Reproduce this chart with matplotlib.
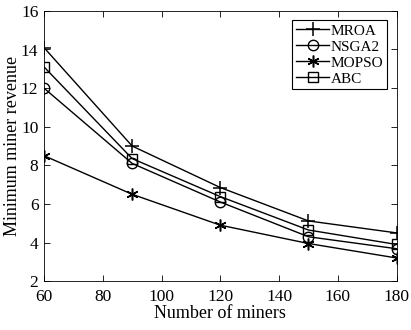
import numpy as np
import matplotlib
matplotlib.use('Agg')
import matplotlib.pyplot as plt

plt.rcParams['font.family'] = ['Liberation Serif', 'DejaVu Serif']
plt.rcParams['mathtext.fontset'] = 'stix'

# --- data ---
miners = [60, 90, 120, 150, 180]
mroa = [14.1, 9.0, 6.85, 5.12, 4.5]
nsga2 = [12.0, 8.1, 6.1, 4.3, 3.68]
mopso = [8.5, 6.5, 4.9, 3.95, 3.2]
abc = [13.1, 8.35, 6.38, 4.65, 3.9]

fig = plt.figure(figsize=(4.11, 3.30), dpi=100)
ax = fig.add_axes([0.107, 0.148, 0.858, 0.819])

ms = 7.5
ax.plot(miners, mroa, color='k', lw=1, marker='+', ms=ms + 2, mew=1.1, label='MROA')
ax.plot(miners, nsga2, color='k', lw=1, marker='o', ms=ms, mfc='none', mew=1, label='NSGA2')
ax.plot(miners, mopso, color='k', lw=1, marker=(6, 2, 0), ms=ms + 1, mew=1.1, label='MOPSO')
ax.plot(miners, abc, color='k', lw=1, marker='s', ms=ms - 0.5, mfc='none', mew=1, label='ABC')

ax.set_xlim(60, 180)
ax.set_ylim(2, 16)
ax.set_xticks(np.arange(60, 181, 20))
ax.set_yticks(np.arange(2, 17, 2))
ax.tick_params(direction='in', top=True, right=True, labelsize=12.5, length=4, width=0.6)
ax.tick_params(axis='x', pad=5.5)
ax.tick_params(axis='y', pad=4)
for s in ax.spines.values():
    s.set_linewidth(0.6)

ax.set_xlabel('Number of miners', fontsize=13, labelpad=0.5)
ax.set_ylabel('Minimum miner revenue', fontsize=13, labelpad=0)

leg = ax.legend(loc='upper right', fontsize=11, frameon=True, fancybox=False,
                edgecolor='k', framealpha=1, borderpad=0.25, labelspacing=0.15,
                handlelength=2.2, handletextpad=0.1, borderaxespad=0.6)
leg.get_frame().set_linewidth(0.8)

fig.savefig('out.png', dpi=100)
